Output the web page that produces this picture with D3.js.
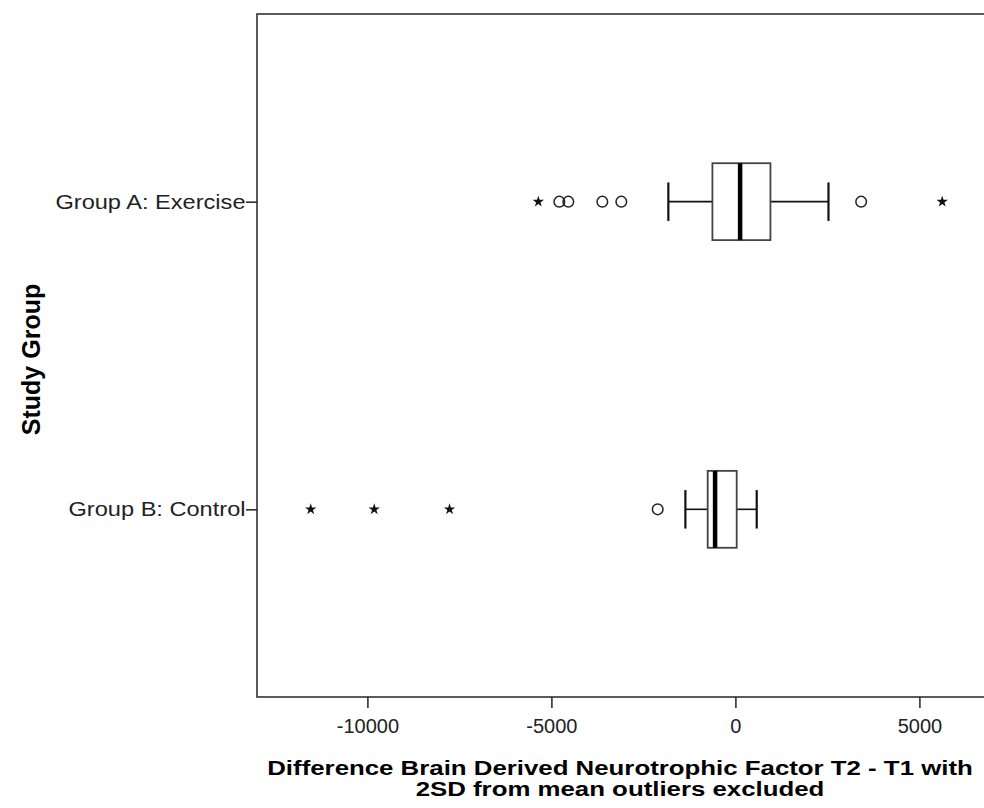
<!DOCTYPE html>
<html>
<head>
<meta charset="utf-8">
<script src="https://cdn.jsdelivr.net/npm/d3@7"></script>
<style>
  html, body { margin: 0; padding: 0; background: #fff; }
  svg { display: block; }
  text { font-family: "Liberation Sans", Arial, sans-serif; }
</style>
</head>
<body>
<svg id="chart" width="984" height="808"></svg>
<script>
// Box-plot summaries of BDNF change (T2 - T1) per study group
const groups = ["Group A: Exercise", "Group B: Control"];
const whiskerLow  = [-1822, -1359];
const q1          = [-625, -753];
const median      = [128, -552];
const q3          = [952, 35];
const whiskerHigh = [2529, 579];
// Outliers (circles) and extreme values (stars)
const outliersA = [-4785, -4540, -3616, -3100, 3417];
const outliersB = [-2112];
const extremesA = [-5356, 5620];
const extremesB = [-11540, -9815, -7768];
const xTicks = [-10000, -5000, 0, 5000];

const outliers = [outliersA, outliersB];
const extremes = [extremesA, extremesB];

const svg = d3.select("#chart");
const plotL = 257, plotR = 1000, plotT = 14, plotB = 697;
const wide = 1.18;   // horizontal stretch used for the wide label lettering

const x = d3.scaleLinear().domain([-13000, 7190]).range([plotL, plotR]);
const y = d3.scalePoint().domain(groups).range([plotT, plotB]).padding(0.61);
const boxH = y.step() * 0.25;
const capH = boxH / 2;

// plot frame
svg.append("rect")
  .attr("x", plotL).attr("y", plotT)
  .attr("width", plotR - plotL).attr("height", plotB - plotT)
  .attr("fill", "none").attr("stroke", "#333").attr("stroke-width", 1.6);

// x axis
const xAxis = d3.axisBottom(x).tickValues(xTicks).tickSize(11).tickSizeOuter(0).tickPadding(11)
  .tickFormat(d => String(d));
const gx = svg.append("g").attr("transform", `translate(0,${plotB})`).call(xAxis);
gx.select(".domain").remove();
gx.selectAll(".tick line").attr("stroke", "#222").attr("stroke-width", 1.5);
gx.selectAll(".tick text").attr("fill", "#222").attr("font-size", 20)
  .attr("font-family", "Liberation Sans, Arial, sans-serif");

// y axis
const yAxis = d3.axisLeft(y).tickSize(11).tickPadding(0);
const gy = svg.append("g").attr("transform", `translate(${plotL},0)`).call(yAxis);
gy.select(".domain").remove();
gy.selectAll(".tick line").attr("stroke", "#222").attr("stroke-width", 1.5);
gy.selectAll(".tick text").attr("fill", "#222").attr("font-size", 20)
  .attr("x", -11.5 / wide)
  .attr("transform", `scale(${wide},1)`)
  .attr("font-family", "Liberation Sans, Arial, sans-serif");

// boxes
const rows = groups.map((g, i) => ({
  g, lo: whiskerLow[i], q1: q1[i], med: median[i], q3: q3[i], hi: whiskerHigh[i],
  out: outliers[i], ext: extremes[i]
}));

const row = svg.append("g").selectAll("g").data(rows).join("g");

row.append("line")
  .attr("x1", d => x(d.lo)).attr("x2", d => x(d.q1))
  .attr("y1", d => y(d.g)).attr("y2", d => y(d.g))
  .attr("stroke", "#111").attr("stroke-width", 1.6);
row.append("line")
  .attr("x1", d => x(d.q3)).attr("x2", d => x(d.hi))
  .attr("y1", d => y(d.g)).attr("y2", d => y(d.g))
  .attr("stroke", "#111").attr("stroke-width", 1.6);
row.append("line")
  .attr("x1", d => x(d.lo)).attr("x2", d => x(d.lo))
  .attr("y1", d => y(d.g) - capH / 2).attr("y2", d => y(d.g) + capH / 2)
  .attr("stroke", "#111").attr("stroke-width", 2.2);
row.append("line")
  .attr("x1", d => x(d.hi)).attr("x2", d => x(d.hi))
  .attr("y1", d => y(d.g) - capH / 2).attr("y2", d => y(d.g) + capH / 2)
  .attr("stroke", "#111").attr("stroke-width", 2.2);
row.append("rect")
  .attr("x", d => x(d.q1)).attr("width", d => x(d.q3) - x(d.q1))
  .attr("y", d => y(d.g) - boxH / 2).attr("height", boxH)
  .attr("fill", "#fff").attr("stroke", "#444").attr("stroke-width", 1.8);
row.append("line")
  .attr("x1", d => x(d.med)).attr("x2", d => x(d.med))
  .attr("y1", d => y(d.g) - boxH / 2).attr("y2", d => y(d.g) + boxH / 2)
  .attr("stroke", "#000").attr("stroke-width", 4.5);

// outliers
row.selectAll("circle").data(d => d.out.map(v => ({ v, g: d.g }))).join("circle")
  .attr("cx", d => x(d.v)).attr("cy", d => y(d.g)).attr("r", 5.3)
  .attr("fill", "none").attr("stroke", "#222").attr("stroke-width", 1.5);

// extremes
const star = d3.symbol().type(d3.symbolStar).size(40);
row.selectAll("path.ext").data(d => d.ext.map(v => ({ v, g: d.g }))).join("path")
  .attr("class", "ext")
  .attr("transform", d => `translate(${x(d.v)},${y(d.g)})`)
  .attr("d", star).attr("fill", "#111");

// axis titles
svg.append("text")
  .attr("transform", `translate(31,${(plotT + plotB) / 2 + 4}) rotate(-90)`)
  .attr("dy", "0.35em")
  .attr("text-anchor", "middle").attr("font-weight", "bold").attr("font-size", 25)
  .attr("fill", "#000").text("Study Group");

const xt = svg.append("text").attr("text-anchor", "middle")
  .attr("transform", `translate(620,0) scale(1.26,1)`)
  .attr("font-weight", "bold").attr("font-size", 20.5)
  .attr("fill", "#000");
xt.append("tspan").attr("x", 0).attr("y", 775).text("Difference Brain Derived Neurotrophic Factor T2 - T1 with");
xt.append("tspan").attr("x", 0).attr("y", 796).text("2SD from mean outliers excluded");
</script>
</body>
</html>
